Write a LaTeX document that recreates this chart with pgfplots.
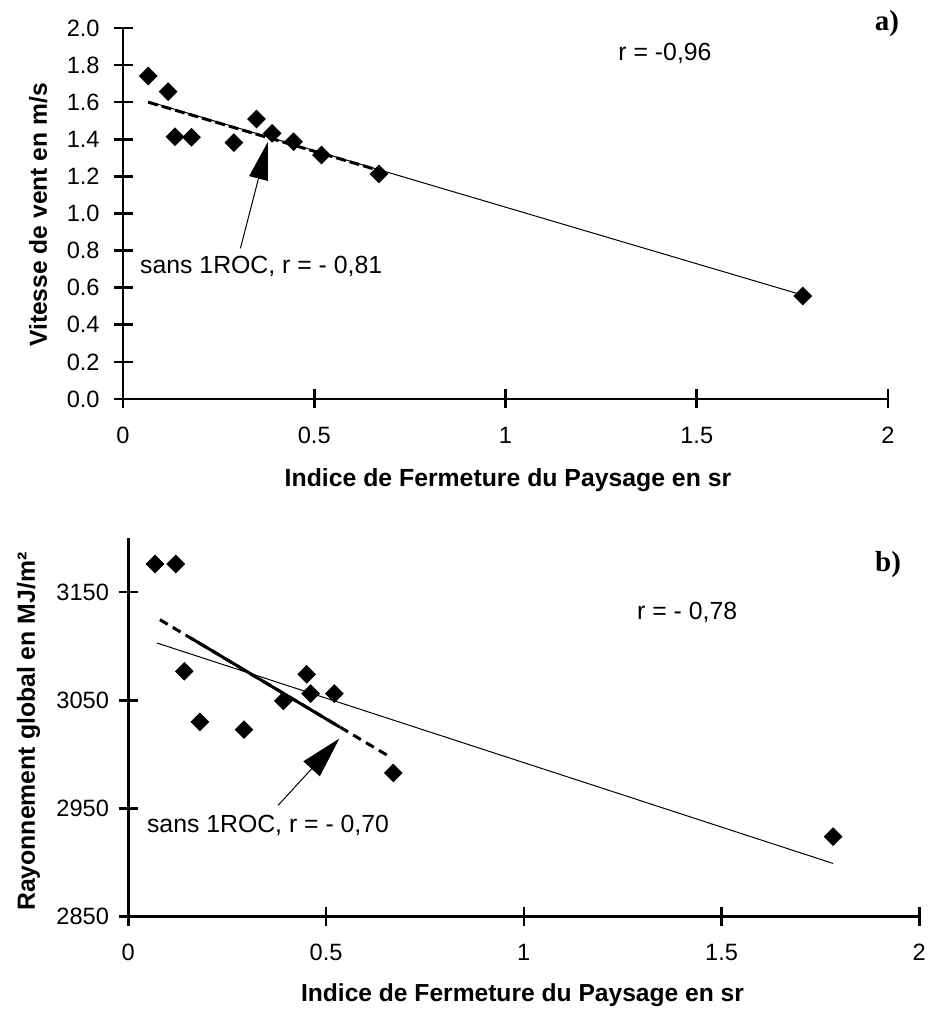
\documentclass[border=0pt]{standalone}
\usepackage{pgfplots}
\pgfplotsset{compat=1.18}
\usepackage{pgfplotstable}
\usepackage{fontspec}
\setmainfont{Liberation Sans}
\newfontfamily\serifb{Liberation Serif}
\usetikzlibrary{arrows.meta}

\pgfplotstableread{
x y
0.066 1.741
0.118 1.657
0.136 1.414
0.179 1.411
0.290 1.382
0.349 1.509
0.390 1.432
0.446 1.387
0.519 1.315
0.669 1.213
1.777 0.555
}\dataA

\pgfplotstableread{
x y
0.0675 3176
0.120 3176
0.1416 3076.8
0.181 3030
0.2925 3022.9
0.392 3049.4
0.451 3074
0.461 3056.2
0.521 3056.2
0.670 2982.9
1.782 2924
}\dataB

\newcommand\tkfont{\fontsize{11.8}{14}\selectfont}

\pgfplotsset{
  myax/.style={
    scale only axis, clip=false,
    axis lines*=left,
    axis line style={line width=1.3pt},
    tick align=center,
    major tick length=9.5pt,
    every tick/.style={line width=1.3pt, black},
    /pgf/number format/assume math mode=true,
    tick label style={font=\tkfont},
    xmin=0, xmax=2, xtick={0,0.5,1,1.5,2},
    xticklabel={\hbox{\tkfont\pgfmathprintnumber{\tick}}},
    every x tick label/.style={anchor=north, inner sep=0pt, yshift=-8.95pt},
    every y tick label/.style={anchor=east, inner sep=0pt},
  },
  diam/.style={only marks, mark=square*, mark size=3.1pt, mark options={rotate=45, fill=black, draw=black}},
}

\begin{document}
\begin{tikzpicture}[x=1pt,y=1pt]
\path[use as bounding box] (0,0) rectangle (464,505.5);

% ---------------- a) ----------------
\begin{axis}[myax,
  at={(61.5pt,306pt)}, anchor=south west,
  width=382.5pt, height=185.5pt,
  ymin=0, ymax=2, ytick={0,0.2,...,2.01},
  yticklabel={\hbox{\tkfont\pgfmathprintnumber[fixed,fixed zerofill,precision=1]{\tick}}},
  yticklabel style={xshift=-6.75pt},
]
\addplot[black, line width=0.5pt] coordinates {(0.066,1.604) (1.777,0.560)};
\addplot[black, line width=1.5pt, dash pattern=on 5pt off 2pt] coordinates {(0.066,1.600) (0.668,1.233)};
\addplot[diam] table {\dataA};
\draw[black, line width=0.5pt, -{Triangle[length=19pt,width=9.5pt]}] (axis cs:0.307,0.812) -- (axis cs:0.379,1.387);
\node[anchor=west, font=\fontsize{12.4}{14}\selectfont, inner sep=0pt] at (axis cs:0.044,0.713) {sans 1ROC, r = - 0,81};
\node[font=\fontsize{12.4}{14}\selectfont, inner sep=0pt] at (axis cs:1.417,1.864) {r = -0,96};
\node[font=\serifb\bfseries\fontsize{14.5}{16}\selectfont, inner sep=0pt] at (axis cs:1.997,2.022) {a)};
\end{axis}

% ---------------- b) ----------------
\begin{axis}[myax,
  at={(64.15pt,47.15pt)}, anchor=south west,
  width=395.5pt, height=189.35pt,
  ymin=2850, ymax=3200, ytick={2850,2950,3050,3150},
  scaled y ticks=false,
  yticklabel={\hbox{\tkfont\pgfmathprintnumber[1000 sep={}]{\tick}}},
  yticklabel style={xshift=-4.75pt},
]
\addplot[black, line width=0.5pt] coordinates {(0.072,3103) (1.782,2899.2)};
\addplot[black, line width=1.5pt, dash pattern=on 4.5pt off 3pt] coordinates {(0.080,3124.5) (0.662,2997.6)};
\addplot[black, line width=1.5pt] coordinates {(0.156,3108) (0.535,3025.2)};
\addplot[diam] table {\dataB};
\draw[black, line width=0.5pt, -{Triangle[length=20.5pt,width=11pt]}] (axis cs:0.379,2953) -- (axis cs:0.5335,3014.6);
\node[anchor=west, font=\fontsize{12.4}{14}\selectfont, inner sep=0pt] at (axis cs:0.0465,2934.6) {sans 1ROC, r = - 0,70};
\node[font=\fontsize{12.4}{14}\selectfont, inner sep=0pt] at (axis cs:1.413,3131.5) {r = - 0,78};
\node[font=\serifb\bfseries\fontsize{14.5}{16}\selectfont, inner sep=0pt] at (axis cs:1.921,3175.6) {b)};
\end{axis}

% axis labels
\node[anchor=base, font=\bfseries\fontsize{12.4}{14}\selectfont, inner sep=0pt] at (254pt,262.15pt) {Indice de Fermeture du Paysage en sr};
\node[anchor=base, font=\bfseries\fontsize{12.3}{14}\selectfont, inner sep=0pt] at (261.25pt,4.65pt) {Indice de Fermeture du Paysage en sr};
\node[anchor=base, rotate=90, font=\bfseries\fontsize{12.3}{14}\selectfont, inner sep=0pt] at (23.5pt,398pt) {Vitesse de vent en m/s};
\node[anchor=base, rotate=90, font=\bfseries\fontsize{12.4}{14}\selectfont, inner sep=0pt] at (17.5pt,139.65pt) {Rayonnement global en MJ/m²};
\end{tikzpicture}
\end{document}
